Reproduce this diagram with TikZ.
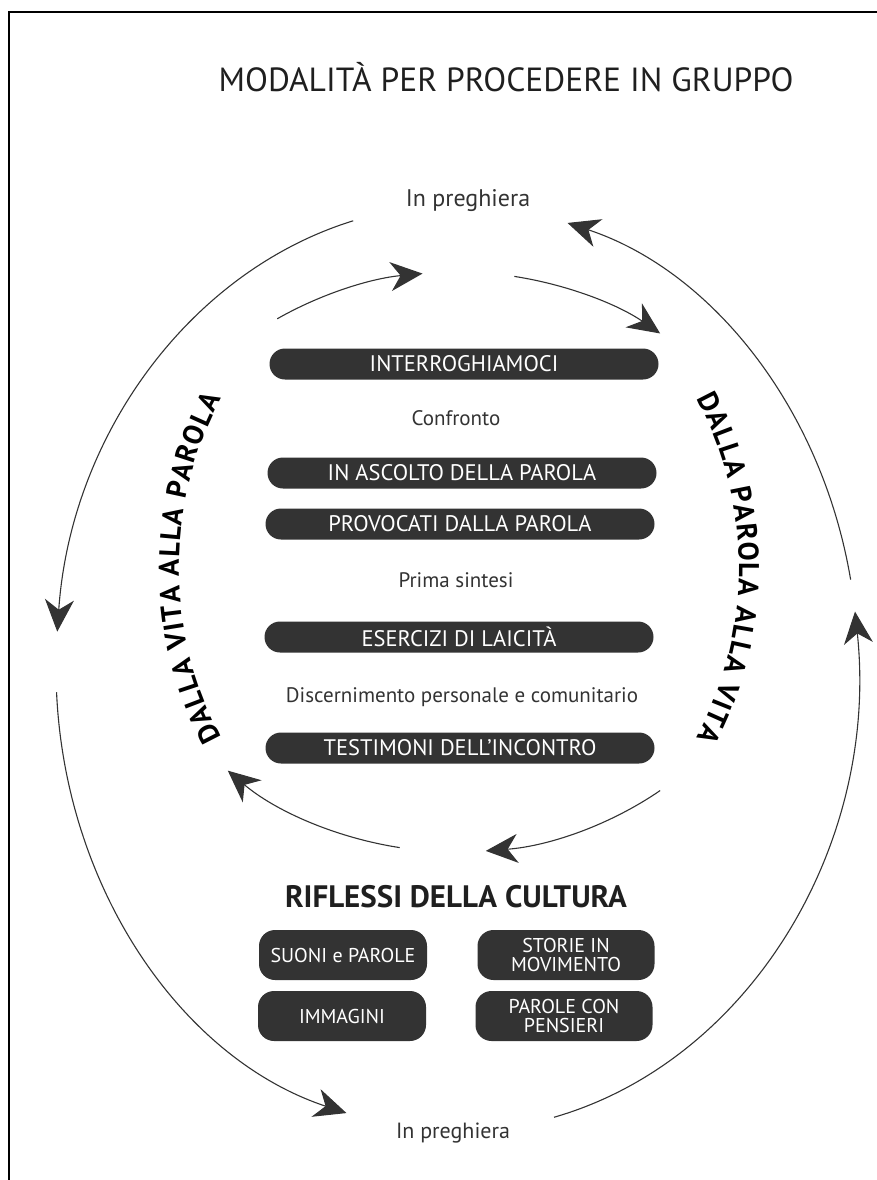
\documentclass[tikz,border=0pt]{standalone}
\usepackage{fontspec}
\setmainfont{PT Sans}
\usetikzlibrary{arrows.meta,decorations.text,calc}
\definecolor{ink}{HTML}{333333}
\newcommand\mysidefont{\bfseries\fontsize{28.5}{28.5}\selectfont}
\begin{document}
\begin{tikzpicture}[x=1pt,y=1pt,
  bar/.style={fill=ink, rounded corners=15.5pt, minimum width=389pt, minimum height=31pt, text=white, font=\fontsize{22.5}{22.5}\selectfont, inner sep=0pt},
  box/.style={fill=ink, rounded corners=16pt, minimum height=50pt, text=white, font=\fontsize{20}{19}\selectfont, align=center, inner sep=0pt},
  lbl/.style={text=ink, font=\fontsize{21}{21}\selectfont, inner sep=0pt, anchor=base},
  arr/.style={draw=ink, line width=1.1pt, -{Stealth[length=32pt,width=29pt,inset=10pt]}},
  sidetext/.style={decorate, decoration={text effects along path, text={#1}, text align=center,
     text effects/.cd, text along path, characters={font=\mysidefont, text=black},
     character widths={font=\mysidefont, inner xsep=0.6pt}}},
]
\useasboundingbox (0,0) rectangle (877,-1180);
\draw[line width=1.5pt] (9,-1180) -- (9,-12) -- (877,-12);

\node[anchor=base, inner sep=0pt, font=\fontsize{33.5}{33.5}\selectfont, text=black!88] (title) at (506,-92) {MODALITÀ PER PROCEDERE IN GRUPPO};

\node[lbl, font=\fontsize{24}{24}\selectfont] (ptop) at (468,-206) {In preghiera};
\node[lbl, font=\fontsize{22}{22}\selectfont] (pbot) at (453,-1138) {In preghiera};

\node[bar] (b1) at (464,-364) {INTERROGHIAMOCI};
\node[lbl] (l1) at (456,-425) {Confronto};
\node[bar] (b2) at (462,-473) {IN ASCOLTO DELLA PAROLA};
\node[bar] (b3) at (460,-524) {PROVOCATI DALLA PAROLA};
\node[lbl] (l2) at (456,-587) {Prima sintesi};
\node[bar] (b4) at (459,-637) {ESERCIZI DI LAICITÀ};
\node[lbl] (l3) at (462,-702) {Discernimento personale e comunitario};
\node[bar] (b5) at (460,-748) {TESTIMONI DELL’INCONTRO};

\node[anchor=base, inner sep=0pt, font=\bfseries\fontsize{31}{31}\selectfont, text=black!88] (rif) at (456,-907) {RIFLESSI DELLA CULTURA};

\node[box, minimum width=168pt] (c1) at (343,-955) {SUONI e PAROLE};
\node[box, minimum width=177pt] (c2) at (566,-955) {STORIE IN\\MOVIMENTO};
\node[box, minimum width=168pt] (c3) at (342,-1016) {IMMAGINI};
\node[box, minimum width=177pt] (c4) at (564,-1016) {PAROLE CON\\PENSIERI};

% outer cycle
\coordinate (O) at (457,-668);
\coordinate (o1) at ($(O)+(105:401 and 463)$);
\coordinate (o2) at ($(O)+(183:401 and 463)$);
\coordinate (o3) at ($(O)+(284:401 and 463)$);
\coordinate (o4) at ($(O)+(11:401 and 463)$);
\draw[arr] (o1) arc[start angle=105, end angle=175.5, x radius=401, y radius=463];
\draw[arr] (o2) arc[start angle=183, end angle=254, x radius=401, y radius=463];
\draw[arr] (o3) arc[start angle=284, end angle=367, x radius=401, y radius=463];
\draw[arr] (o4) arc[start angle=11, end angle=74, x radius=401, y radius=463];

% inner cycle
\coordinate (I) at (457,-562);
\coordinate (i1) at ($(I)+(123:330 and 290)$);
\coordinate (i2) at ($(I)+(80:330 and 290)$);
\coordinate (i3) at ($(I)+(308:330 and 290)$);
\coordinate (i4) at ($(I)+(260:330 and 290)$);
\draw[arr] (i1) arc[start angle=123, end angle=96, x radius=330, y radius=290];
\draw[arr] (i2) arc[start angle=80, end angle=52, x radius=330, y radius=290];
\draw[arr] (i3) arc[start angle=308, end angle=275, x radius=330, y radius=290];
\draw[arr] (i4) arc[start angle=260, end angle=226, x radius=330, y radius=290];

% side texts
\coordinate (S) at (459,-568);
\coordinate (sl) at ($(S)+(235:280 and 320)$);
\coordinate (sr) at ($(S)+(55:280 and 320)$);
\path[sidetext={DALLA VITA ALLA PAROLA}] (sl) arc[start angle=235, end angle=125, x radius=280, y radius=320];
\path[sidetext={DALLA PAROLA ALLA VITA}] (sr) arc[start angle=55, end angle=-55, x radius=280, y radius=320];
\end{tikzpicture}
\end{document}
